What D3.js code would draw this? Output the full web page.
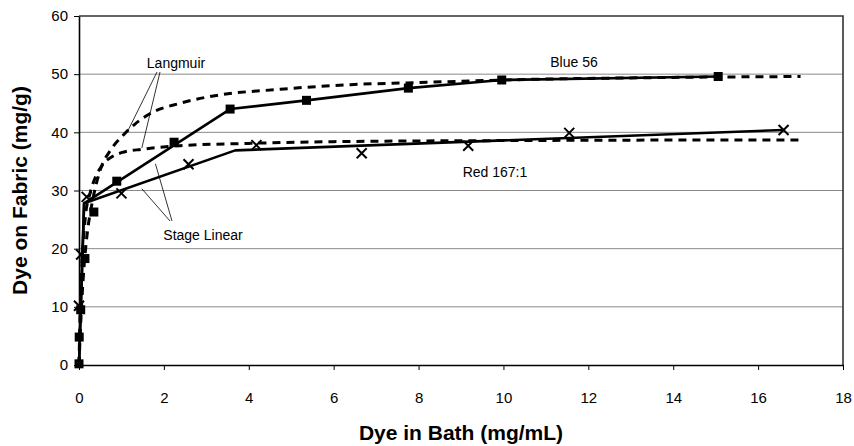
<!DOCTYPE html>
<html>
<head>
<meta charset="utf-8">
<script src="https://cdn.jsdelivr.net/npm/d3@7/dist/d3.min.js"></script>
<style>
  body { margin: 0; background: #fff; }
  svg { display: block; }
  text { font-family: "Liberation Sans", Arial, sans-serif; fill: #000; }
</style>
</head>
<body>
<svg id="chart" width="854" height="446"></svg>
<script>
// Axis ticks
const xTicks = [0, 2, 4, 6, 8, 10, 12, 14, 16, 18];
const yTicks = [0, 10, 20, 30, 40, 50, 60];

// Measured uptake, Blue 56 (squares)
const blueBath   = [0, 0.005, 0.04, 0.14, 0.35, 0.89, 2.24, 3.56, 5.36, 7.76, 9.96, 15.06];
const blueFabric = [0.2, 4.8, 9.5, 18.3, 26.3, 31.6, 38.3, 44.0, 45.5, 47.6, 49.0, 49.6];

// Measured uptake, Red 167:1 (crosses)
const redBath   = [0, 0.05, 0.18, 1.0, 2.58, 4.18, 6.66, 9.17, 11.55, 16.6];
const redFabric = [10.2, 19.0, 28.9, 29.5, 34.5, 37.8, 36.4, 37.7, 39.9, 40.4];

// Stage linear fits (solid)
const blueStageBath   = [0, 0.12, 3.56, 5.36, 7.76, 9.96, 15.06];
const blueStageFabric = [0, 27.8, 44.0, 45.5, 47.6, 49.0, 49.6];
const redStageBath   = [0, 0.12, 3.68, 16.6];
const redStageFabric = [0, 27.8, 36.9, 40.4];

// Langmuir fits (dashed)
const blueLangBath   = [0, 0.03, 0.07, 0.12, 0.2, 0.3, 0.49, 0.75, 1.04, 1.3, 1.67, 2.38, 3.2, 4.74, 6.4, 7.72, 10.6, 13.5, 17];
const blueLangFabric = [0, 5.5, 11.5, 17, 23, 27.5, 33.3, 37, 39.5, 41.3, 43.2, 45.0, 46.3, 47.4, 48.2, 48.5, 49.1, 49.4, 49.6];
const redLangBath   = [0, 0.02, 0.05, 0.1, 0.15, 0.26, 0.4, 0.58, 0.8, 1.0, 1.5, 2.38, 4, 6, 10.6, 17];
const redLangFabric = [0, 7, 14, 21, 25.5, 29.5, 32.5, 34.6, 35.9, 36.5, 37.1, 37.7, 38.1, 38.4, 38.6, 38.7];

const zip = (xs, ys) => xs.map((v, i) => [v, ys[i]]);

const svg = d3.select("#chart");
const plot = { left: 79, right: 843, top: 16, bottom: 365 };

const x = d3.scaleLinear().domain([0, 18]).range([plot.left, plot.right]);
const y = d3.scaleLinear().domain([0, 60]).range([plot.bottom, plot.top]);

// Horizontal gridlines
svg.append("g")
  .selectAll("line")
  .data(yTicks.filter(t => t > 0 && t < 60))
  .join("line")
  .attr("x1", plot.left).attr("x2", plot.right)
  .attr("y1", d => y(d)).attr("y2", d => y(d))
  .attr("stroke", "#8a8a8a").attr("stroke-width", 1);

// Plot frame (top and right)
svg.append("path")
  .attr("d", `M${plot.left},${plot.top}H${plot.right}V${plot.bottom}`)
  .attr("fill", "none").attr("stroke", "#333").attr("stroke-width", 1.6);

// Axes
const xAxis = svg.append("g")
  .attr("transform", `translate(0,${plot.bottom})`)
  .call(d3.axisBottom(x).tickValues(xTicks).tickSize(5).tickSizeOuter(0).tickPadding(22));
const yAxis = svg.append("g")
  .attr("transform", `translate(${plot.left},0)`)
  .call(d3.axisLeft(y).tickValues(yTicks).tickSize(5).tickSizeOuter(0).tickPadding(6));
[xAxis, yAxis].forEach(g => {
  g.select(".domain").attr("stroke", "#000").attr("stroke-width", 1.6);
  g.selectAll(".tick line").attr("stroke", "#000").attr("stroke-width", 1);
  g.selectAll(".tick text")
    .attr("font-family", '"Liberation Sans", Arial, sans-serif')
    .attr("font-size", 15).attr("fill", "#000");
});

const line = d3.line().x(d => x(d[0])).y(d => y(d[1]));
const curve = d3.line().x(d => x(d[0])).y(d => y(d[1])).curve(d3.curveMonotoneX);

// Langmuir curves
[zip(blueLangBath, blueLangFabric), zip(redLangBath, redLangFabric)].forEach(pts => {
  svg.append("path").attr("d", curve(pts))
    .attr("fill", "none").attr("stroke", "#000")
    .attr("stroke-width", 3).attr("stroke-dasharray", "8,6");
});

// Stage linear fits
[zip(blueStageBath, blueStageFabric), zip(redStageBath, redStageFabric)].forEach(pts => {
  svg.append("path").attr("d", line(pts))
    .attr("fill", "none").attr("stroke", "#000")
    .attr("stroke-width", 2.6).attr("stroke-linejoin", "round");
});

// Blue 56 markers
svg.append("g").selectAll("rect")
  .data(zip(blueBath, blueFabric))
  .join("rect")
  .attr("x", d => x(d[0]) - 4.5).attr("y", d => y(d[1]) - 4.5)
  .attr("width", 9).attr("height", 9).attr("fill", "#000");

// Red 167:1 markers
svg.append("g").selectAll("path")
  .data(zip(redBath, redFabric))
  .join("path")
  .attr("d", d => {
    const cx = x(d[0]), cy = y(d[1]), r = 5;
    return `M${cx - r},${cy - r}L${cx + r},${cy + r}M${cx - r},${cy + r}L${cx + r},${cy - r}`;
  })
  .attr("stroke", "#000").attr("stroke-width", 2).attr("fill", "none");

// Annotations
const ann = svg.append("g").attr("font-size", 14);
ann.append("text").attr("x", 176).attr("y", 68).attr("text-anchor", "middle").text("Langmuir");
ann.append("text").attr("x", 203).attr("y", 240).attr("text-anchor", "middle").text("Stage Linear");
ann.append("text").attr("x", 574).attr("y", 67).attr("text-anchor", "middle").text("Blue 56");
ann.append("text").attr("x", 495).attr("y", 177).attr("text-anchor", "middle").text("Red 167:1");

// Leader lines
const leaders = [
  [[157, 72], [x(1.16), y(40.4)]],
  [[160, 72], [x(1.48), y(37.3)]],
  [[170, 221], [x(1.48), y(30.3)]],
  [[172, 221], [x(1.8), y(34.6)]]
];
svg.append("g").selectAll("line")
  .data(leaders).join("line")
  .attr("x1", d => d[0][0]).attr("y1", d => d[0][1])
  .attr("x2", d => d[1][0]).attr("y2", d => d[1][1])
  .attr("stroke", "#000").attr("stroke-width", 0.8);

// Axis titles
svg.append("text")
  .attr("x", (plot.left + plot.right) / 2).attr("y", 440)
  .attr("text-anchor", "middle").attr("font-size", 21).attr("font-weight", "bold")
  .text("Dye in Bath (mg/mL)");
svg.append("text")
  .attr("transform", `translate(27,${(plot.top + plot.bottom) / 2}) rotate(-90)`)
  .attr("text-anchor", "middle").attr("font-size", 21).attr("font-weight", "bold")
  .text("Dye on Fabric (mg/g)");
</script>
</body>
</html>
